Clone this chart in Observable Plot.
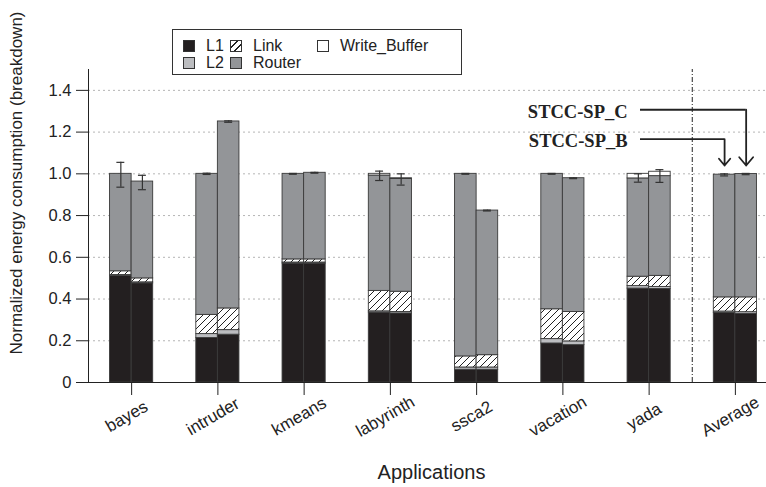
<!DOCTYPE html>
<html>
<head>
<meta charset="utf-8">
<script src="https://cdn.jsdelivr.net/npm/d3@7"></script>
<script src="https://cdn.jsdelivr.net/npm/@observablehq/plot@0.6"></script>
<style>
  body { margin: 0; background: #fff; font-family: "Liberation Sans", Arial, sans-serif; }
  #chart { position: relative; width: 766px; height: 487px; }
  .legend { position: absolute; left: 172px; top: 29px; width: 290px; height: 46px;
            border: 1px solid #333; background: #fff; box-sizing: border-box; color: #222; font-size: 16px; }
  .item { position: absolute; display: flex; align-items: center; height: 14px; }
  .sw { width: 12px; height: 12px; border: 1px solid #333; box-sizing: border-box; margin-right: 11px; }
</style>
</head>
<body>
<div id="chart"></div>
<script>
// Applications on the x axis and the two configurations drawn side by side
const apps = ["bayes", "intruder", "kmeans", "labyrinth", "ssca2", "vacation", "yada", "Average"];
const configs = ["STCC-SP_B", "STCC-SP_C"];
const components = ["L1", "L2", "Link", "Router", "Write_Buffer"];

// Energy breakdown, normalized to STCC-SP_B (one value per application)
const l1B     = [0.510, 0.213, 0.570, 0.335, 0.061, 0.187, 0.450, 0.333];
const l2B     = [0.005, 0.019, 0.005, 0.006, 0.011, 0.021, 0.012, 0.007];
const linkB   = [0.018, 0.092, 0.015, 0.098, 0.053, 0.143, 0.045, 0.068];
const routerB = [0.467, 0.676, 0.410, 0.553, 0.875, 0.649, 0.471, 0.588];
const wbB     = [0.000, 0.000, 0.000, 0.008, 0.000, 0.000, 0.022, 0.000];

const l1C     = [0.475, 0.229, 0.570, 0.331, 0.061, 0.179, 0.448, 0.328];
const l2C     = [0.005, 0.022, 0.005, 0.007, 0.011, 0.018, 0.010, 0.009];
const linkC   = [0.019, 0.104, 0.015, 0.097, 0.059, 0.141, 0.053, 0.071];
const routerC = [0.464, 0.896, 0.415, 0.540, 0.693, 0.641, 0.478, 0.591];
const wbC     = [0.000, 0.000, 0.000, 0.004, 0.000, 0.000, 0.021, 0.000];

// Error bar extents (low, high)
const errLowB  = [0.936, 0.997, 0.998, 0.968, 0.998, 0.998, 0.960, 0.990];
const errHighB = [1.055, 1.003, 1.002, 1.013, 1.002, 1.002, 1.000, 1.000];
const errLowC  = [0.924, 1.247, 1.003, 0.946, 0.822, 0.977, 0.959, 0.996];
const errHighC = [0.993, 1.254, 1.007, 1.000, 0.826, 0.981, 1.020, 1.002];

// Axis ticks
const yTicks = [0, 0.2, 0.4, 0.6, 0.8, 1.0, 1.2, 1.4];

// Callouts naming the two configurations over the Average bars
const calloutLabels = ["STCC-SP_B", "STCC-SP_C"];
const calloutLineY = [1.166, 1.307];
const calloutTipY = 1.04;

const fills = {
  L1: "#231f20",
  L2: "#bcbdc0",
  Link: "url(#link-hatch)",
  Router: "#939598",
  Write_Buffer: "#ffffff"
};

const seriesB = {L1: l1B, L2: l2B, Link: linkB, Router: routerB, Write_Buffer: wbB};
const seriesC = {L1: l1C, L2: l2C, Link: linkC, Router: routerC, Write_Buffer: wbC};

const halfBar = 0.25;   // each bar spans a quarter of the category step
const offsets = {"STCC-SP_B": -1, "STCC-SP_C": 1};

// Stacked segments
const segments = [];
apps.forEach((app, i) => {
  configs.forEach(cfg => {
    const s = cfg === "STCC-SP_B" ? seriesB : seriesC;
    const x1 = cfg === "STCC-SP_B" ? i - halfBar : i;
    const x2 = cfg === "STCC-SP_B" ? i : i + halfBar;
    let acc = 0;
    components.forEach(comp => {
      const v = s[comp][i];
      if (v > 0) segments.push({app, cfg, comp, x1, x2, y1: acc, y2: acc + v});
      acc += v;
    });
  });
});

const errors = [];
apps.forEach((app, i) => {
  errors.push({x: i - halfBar / 2, lo: errLowB[i], hi: errHighB[i]});
  errors.push({x: i + halfBar / 2, lo: errLowC[i], hi: errHighC[i]});
});
const capHalf = 0.046;

const callouts = calloutLabels.map((label, k) => ({
  label,
  y: calloutLineY[k],
  xBar: (apps.length - 1) + offsets[label] * halfBar / 2
}));
const calloutTextEnd = 5.75;
const calloutLineStart = 5.9;

const hatchDefs = () => {
  const defs = d3.create("svg:defs");
  const p = defs.append("pattern")
    .attr("id", "link-hatch")
    .attr("patternUnits", "userSpaceOnUse")
    .attr("width", 7).attr("height", 7);
  p.append("rect").attr("width", 7).attr("height", 7).attr("fill", "#fff");
  p.append("path")
    .attr("d", "M-1,1 l2,-2 M0,7 l7,-7 M6,8 l2,-2")
    .attr("stroke", "#222").attr("stroke-width", 1);
  return defs.node();
};

const idx = d3.range(apps.length);

const plot = Plot.plot({
  width: 766,
  height: 487,
  marginLeft: 88,
  marginRight: 0,
  marginTop: 69,
  marginBottom: 105,
  style: {fontFamily: "Liberation Sans, Arial, sans-serif", background: "#fff", color: "#222"},
  x: {domain: [-0.5, apps.length - 0.5], range: [88, 778]},
  y: {domain: [0, 1.5]},
  marks: [
    hatchDefs,
    // dotted grid
    Plot.ruleY(yTicks.filter(d => d > 0), {x1: -0.5, x2: apps.length - 0.5, stroke: "#b5b5b5", strokeDasharray: "2,3", strokeWidth: 1}),
    // separator before the Average group
    Plot.ruleX([apps.length - 1.5], {y1: 0, y2: 1.5, stroke: "#222", strokeWidth: 1, strokeDasharray: "5,2,1,2"}),
    // stacked bars
    Plot.rect(segments, {
      x1: "x1", x2: "x2", y1: "y1", y2: "y2",
      fill: d => fills[d.comp],
      stroke: "#3a3a3a", strokeWidth: 0.9
    }),
    // error bars
    Plot.ruleX(errors, {x: "x", y1: "lo", y2: "hi", stroke: "#333", strokeWidth: 1.2}),
    Plot.ruleY(errors, {y: "lo", x1: d => d.x - capHalf, x2: d => d.x + capHalf, stroke: "#333", strokeWidth: 1.2}),
    Plot.ruleY(errors, {y: "hi", x1: d => d.x - capHalf, x2: d => d.x + capHalf, stroke: "#333", strokeWidth: 1.2}),
    // axes lines
    Plot.ruleX([-0.5], {y1: 0, y2: 1.5, stroke: "#222", strokeWidth: 1}),
    Plot.ruleY([0], {x1: -0.5, x2: apps.length - 0.5, stroke: "#222", strokeWidth: 1.2}),
    Plot.axisY(yTicks, {
      tickSize: 12, tickPadding: 5, fontSize: 16.5, label: null,
      tickFormat: d => d === 0 ? "0" : d.toFixed(1)
    }),
    Plot.axisX(idx, {tickSize: 13, tickFormat: () => "", label: null}),
    Plot.text(idx, {
      x: d => d, y: 0, text: d => apps[d],
      rotate: -30, dx: -5, dy: 34, fontSize: 17, fill: "#222",
      textAnchor: "middle", lineAnchor: "middle"
    }),
    Plot.text(["Applications"], {frameAnchor: "bottom", dx: 4, dy: 96, fontSize: 20, fill: "#222", lineAnchor: "bottom"}),
    Plot.text(["Normalized energy consumption (breakdown)"], {
      frameAnchor: "left", rotate: -90, dx: -72, dy: -43, fontSize: 17,
      textAnchor: "middle", lineAnchor: "middle", fill: "#222"
    }),
    // callouts
    Plot.text(callouts, {
      x: calloutTextEnd, y: "y", text: "label", textAnchor: "end", lineAnchor: "middle",
      fontFamily: "Liberation Serif, Times New Roman, serif", fontWeight: "bold", fontSize: 18.5, fill: "#222", dy: 2
    }),
    Plot.ruleY(callouts, {y: "y", x1: calloutLineStart, x2: "xBar", stroke: "#222", strokeWidth: 1.8}),
    Plot.arrow(callouts, {
      x1: "xBar", y1: "y", x2: "xBar", y2: calloutTipY,
      stroke: "#222", strokeWidth: 1.8, headLength: 9, headAngle: 80
    })
  ]
});

const chart = document.getElementById("chart");
chart.appendChild(plot);

// Legend box
const legendFills = {
  L1: "#231f20",
  L2: "#bcbdc0",
  Link: "repeating-linear-gradient(135deg, #fff 0 4px, #222 4px 5px)",
  Router: "#939598",
  Write_Buffer: "#ffffff"
};
const legendSlots = {
  L1: [10, 9], Link: [57, 9], Write_Buffer: [144, 9],
  L2: [10, 26], Router: [57, 26]
};
const legend = document.createElement("div");
legend.className = "legend";
components.forEach(comp => {
  const [left, top] = legendSlots[comp];
  const item = document.createElement("div");
  item.className = "item";
  item.style.left = left + "px";
  item.style.top = top + "px";
  const sw = document.createElement("div");
  sw.className = "sw";
  sw.style.background = legendFills[comp];
  const label = document.createElement("span");
  label.textContent = comp;
  item.appendChild(sw);
  item.appendChild(label);
  legend.appendChild(item);
});
chart.appendChild(legend);
</script>
</body>
</html>
